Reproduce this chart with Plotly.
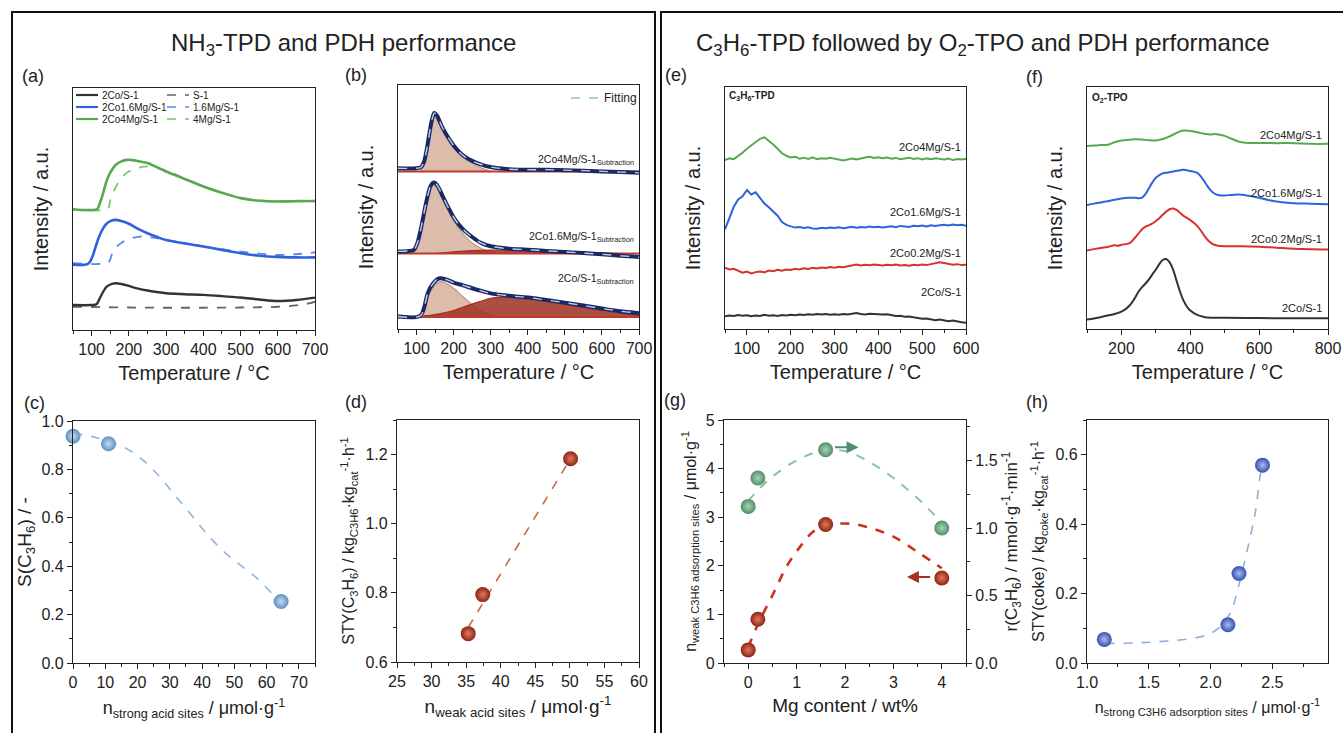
import plotly.graph_objects as go

W, H = 1343, 733
FONT = "Liberation Sans, Arial, sans-serif"
INK = "#222222"


def fx(px):
    return px / W


def fy(py):
    return 1 - py / H


# ---------------- (a) NH3-TPD profiles ----------------
a_T_co = [50, 100, 113, 120, 130, 140, 150, 165, 180, 200, 225, 250, 275, 300, 350, 400, 450, 500, 550, 600, 650, 700]
a_co = [10.3, 10.3, 10.6, 12.5, 15.5, 17.8, 18.8, 19.3, 19.0, 18.2, 17.1, 16.3, 15.7, 15.2, 14.8, 14.5, 14.0, 13.4, 12.6, 12.0, 12.4, 13.4]
a_T_s1 = [50, 100, 200, 300, 400, 500, 550, 600, 650, 680, 700]
a_s1 = [9.6, 9.5, 9.3, 9.2, 9.2, 9.3, 9.4, 9.6, 10.2, 10.9, 11.7]
a_T_co16 = [50, 90, 100, 110, 120, 130, 140, 150, 165, 180, 200, 225, 250, 275, 300, 350, 400, 450, 500, 550, 600, 650, 700]
a_co16 = [27.0, 27.3, 29.5, 34.0, 38.5, 41.8, 43.9, 45.0, 45.5, 45.0, 43.9, 41.8, 40.0, 38.5, 37.2, 35.8, 34.5, 33.1, 31.7, 30.7, 30.2, 30.0, 30.0]
a_T_mg16 = [50, 140, 148, 155, 165, 180, 200, 230, 260, 300, 350, 400, 450, 500, 550, 600, 650, 700]
a_mg16 = [27.6, 27.6, 28.5, 31.5, 34.0, 36.0, 37.6, 38.6, 38.3, 37.2, 35.8, 34.5, 33.4, 32.4, 31.6, 31.0, 31.3, 32.1]
a_T_co4 = [50, 115, 120, 130, 140, 150, 165, 180, 195, 210, 230, 250, 275, 300, 350, 400, 450, 500, 550, 600, 650, 700]
a_co4 = [49.9, 50.0, 51.5, 56.0, 61.5, 65.0, 68.3, 69.7, 70.3, 70.2, 69.6, 69.0, 67.3, 65.5, 62.4, 59.3, 56.7, 54.5, 53.4, 53.1, 53.2, 53.3]
a_T_mg4 = [50, 140, 145, 150, 160, 170, 180, 200, 225, 250, 275, 300, 350, 400, 450, 500, 550, 600, 650, 700]
a_mg4 = [49.6, 49.7, 50.3, 53.5, 57.5, 60.5, 62.8, 65.5, 67.0, 67.6, 67.0, 65.9, 62.6, 59.4, 56.8, 54.7, 53.6, 53.3, 53.4, 53.5]

# ---------------- (b) subtracted profiles and fitted peaks ----------------
b_base = [64.5, 30.9, 4.9]
b_labels = ["2Co4Mg/S-1", "2Co1.6Mg/S-1", "2Co/S-1"]

b_T_4 = [50, 100, 112, 120, 128, 135, 142, 148, 155, 162, 170, 180, 190, 200, 215, 230, 250, 275, 300, 350, 400, 450, 500, 550, 600, 650, 700]
b_4 = [65.9, 65.9, 66.3, 68.5, 74.0, 80.5, 86.0, 88.5, 87.5, 85.2, 82.5, 79.8, 77.4, 75.2, 72.6, 70.6, 68.9, 67.4, 66.4, 65.5, 65.3, 65.3, 65.1, 64.9, 64.6, 64.3, 64.0]
b_Tw_4 = [110, 120, 128, 135, 142, 148, 155, 162, 170, 180, 190, 200, 215, 230, 250, 275, 300]
b_w_4 = [64.5, 67.8, 73.5, 80.0, 85.5, 88.0, 87.0, 84.7, 82.0, 79.2, 76.8, 74.6, 72.0, 70.0, 68.0, 66.0, 64.5]

b_T_16 = [50, 80, 92, 100, 108, 115, 122, 130, 137, 145, 152, 160, 170, 180, 190, 200, 215, 230, 250, 275, 300, 350, 400, 450, 500, 550, 600, 650, 700]
b_16 = [31.8, 32.0, 32.3, 34.3, 38.5, 43.5, 49.0, 54.5, 58.3, 60.0, 59.6, 57.8, 54.6, 51.5, 48.5, 45.8, 42.6, 40.2, 37.7, 35.2, 33.9, 32.9, 32.5, 32.0, 31.6, 31.1, 30.6, 30.0, 29.5]
b_Tw_16 = [88, 100, 108, 115, 122, 130, 137, 145, 152, 160, 170, 180, 190, 200, 215, 230, 250, 275, 300, 320]
b_w_16 = [30.9, 33.3, 37.5, 42.5, 48.0, 53.5, 57.3, 59.0, 58.6, 56.8, 53.6, 50.4, 47.3, 44.5, 41.0, 38.2, 35.3, 33.0, 31.6, 30.9]
b_Ts_16 = [150, 200, 250, 300, 350, 400, 450, 500, 550, 600, 650]
b_s_16 = [30.9, 31.6, 32.1, 32.3, 32.3, 32.2, 32.0, 31.8, 31.5, 31.2, 30.9]

b_T_0 = [50, 110, 120, 130, 145, 160, 180, 200, 225, 250, 275, 300, 350, 400, 450, 500, 550, 600, 650, 700]
b_0 = [5.1, 5.4, 8.5, 14.6, 18.7, 20.7, 20.3, 19.0, 17.9, 16.7, 15.6, 14.6, 13.6, 12.9, 11.9, 10.8, 9.6, 8.4, 7.3, 6.5]
b_Tw_0 = [115, 125, 135, 150, 165, 180, 200, 225, 250, 275, 300, 325]
b_w_0 = [4.9, 9.2, 14.6, 18.0, 19.4, 18.7, 16.7, 13.3, 9.9, 7.2, 5.8, 4.9]
b_Ts_0 = [120, 150, 200, 250, 300, 330, 350, 400, 450, 500, 550, 600, 650, 700]
b_s_0 = [5.4, 5.9, 7.6, 10.2, 12.6, 13.1, 13.1, 12.7, 11.7, 10.2, 8.8, 7.6, 6.5, 5.7]

# ---------------- (e) C3H6-TPD ----------------
e_T = list(range(50, 601, 10))
e_co4 = [69.8, 70.5, 70.2, 71.5, 72.8, 74.5, 76.0, 77.5, 78.6, 79.2, 77.8, 76.2, 74.5, 72.6, 71.6, 70.9, 71.2, 70.4, 70.8, 70.3,
         70.9, 70.2, 70.6, 70.4, 70.8, 70.5, 70.1, 69.6, 70.0, 70.4, 70.1, 70.6, 70.9, 71.2, 70.7, 71.0, 70.6, 70.9, 70.4, 70.7,
         70.2, 70.5, 70.8, 70.3, 70.6, 70.1, 70.5, 70.2, 70.6, 70.3, 70.0, 70.4, 69.8, 70.2, 70.0, 70.4]
e_co16 = [41.2, 45.5, 50.5, 53.5, 54.8, 57.4, 55.6, 56.5, 54.0, 51.8, 50.3, 48.5, 46.8, 44.2, 43.0, 42.4, 41.9, 42.1, 41.7, 42.0,
          41.5, 41.4, 41.8, 41.6, 41.9, 41.7, 42.0, 41.6, 41.9, 42.2, 41.8, 42.1, 41.9, 42.3, 42.0, 42.2, 41.9, 42.3, 42.5, 42.1,
          42.6, 42.4, 42.2, 42.7, 42.5, 42.8, 42.4, 42.9, 42.6, 42.9, 43.1, 42.8, 43.2, 42.9, 43.1, 42.7]
e_co02 = [25.3, 24.6, 24.9, 24.0, 23.3, 23.7, 23.0, 23.5, 23.8, 23.4, 24.2, 23.9, 24.5, 24.1, 24.6, 24.4, 24.9, 24.6, 25.1, 24.8,
          25.3, 25.0, 25.4, 25.2, 25.6, 25.3, 25.7, 25.5, 25.9, 26.3, 26.6, 26.2, 26.5, 26.3, 26.6, 26.4, 26.2, 26.5, 26.3, 26.6,
          26.2, 26.4, 26.1, 26.5, 26.3, 26.6, 26.4, 26.8, 27.2, 27.6, 27.3, 27.0, 26.6, 26.8, 26.4, 26.6]
e_co = [5.3, 5.6, 5.4, 5.8, 5.5, 5.7, 5.3, 5.6, 5.4, 5.9, 5.5, 5.7, 5.4, 5.8, 5.6, 5.9, 5.7, 6.0, 5.8, 6.1,
        5.9, 6.2, 6.0, 6.2, 5.9, 6.1, 5.9, 6.2, 6.0, 6.3, 6.6, 6.2, 6.0, 6.3, 6.1, 6.2, 6.0, 6.1, 5.7, 5.4,
        5.5, 5.1, 5.2, 4.8, 4.5, 4.2, 4.3, 3.8, 3.6, 3.9, 3.4, 3.2, 3.5, 3.0, 2.8, 2.6]
e_labels = ["2Co4Mg/S-1", "2Co1.6Mg/S-1", "2Co0.2Mg/S-1", "2Co/S-1"]

# ---------------- (f) O2-TPO ----------------
f_T_co = [100, 120, 140, 160, 180, 200, 210, 220, 230, 240, 250, 260, 270, 280, 290, 300, 310, 320, 330, 340, 350, 360, 370, 380, 390, 400, 420, 440, 460, 500, 600, 700, 800]
f_co = [3.9, 4.3, 4.9, 5.6, 6.2, 7.2, 8.0, 9.2, 10.8, 13.0, 15.5, 17.3, 18.8, 20.5, 22.6, 24.6, 26.8, 28.5, 28.9, 27.5, 24.5, 20.0, 15.5, 11.8, 9.3, 7.6, 5.8, 5.0, 4.7, 4.6, 4.5, 4.4, 4.4]
f_T_co02 = [100, 120, 140, 160, 180, 190, 200, 220, 230, 240, 250, 260, 270, 280, 290, 300, 310, 320, 330, 340, 350, 360, 370, 380, 390, 400, 410, 420, 430, 440, 450, 460, 470, 480, 500, 550, 600, 650, 700, 750, 800]
f_co02 = [32.4, 33.0, 33.5, 33.9, 34.6, 34.4, 34.8, 35.3, 36.2, 37.8, 39.5, 41.2, 42.3, 42.9, 43.6, 44.6, 45.8, 47.2, 48.5, 49.5, 49.8, 49.2, 48.0, 46.8, 45.9, 45.0, 43.9, 42.6, 40.8, 38.7, 36.9, 35.6, 34.8, 34.4, 34.2, 34.2, 34.0, 33.6, 33.2, 33.0, 32.9]
f_T_co16 = [100, 120, 140, 160, 180, 200, 220, 240, 250, 260, 270, 280, 290, 300, 310, 320, 330, 340, 350, 360, 370, 380, 390, 400, 410, 420, 430, 440, 450, 460, 470, 480, 490, 500, 520, 540, 560, 580, 600, 620, 650, 700, 750, 800]
f_co16 = [51.2, 51.8, 52.3, 52.8, 53.4, 53.9, 54.2, 54.2, 54.0, 54.3, 55.8, 58.2, 60.6, 62.5, 63.6, 64.3, 64.6, 64.8, 65.1, 65.4, 65.6, 65.8, 65.6, 65.3, 65.0, 64.5, 63.2, 61.2, 59.0, 57.2, 56.0, 55.4, 55.2, 55.2, 55.4, 55.6, 55.3, 54.8, 54.2, 53.5, 52.7, 52.0, 51.8, 51.6]
f_T_co4 = [100, 120, 140, 160, 170, 180, 200, 220, 240, 260, 280, 300, 320, 340, 360, 380, 400, 420, 440, 460, 470, 480, 500, 520, 540, 560, 600, 650, 700, 750, 800]
f_co4 = [75.6, 75.8, 76.0, 76.1, 76.6, 77.2, 77.9, 78.2, 78.4, 78.3, 78.0, 77.9, 78.5, 79.6, 81.0, 82.0, 81.8, 81.3, 80.7, 80.4, 80.6, 80.4, 79.8, 78.6, 77.5, 77.0, 76.9, 76.8, 76.8, 76.5, 76.5]
f_labels = ["2Co4Mg/S-1", "2Co1.6Mg/S-1", "2Co0.2Mg/S-1", "2Co/S-1"]

# ---------------- (c) selectivity vs strong acid sites ----------------
c_n_strong = [0.0, 11.0, 64.5]
c_sel = [0.937, 0.906, 0.254]
c_fit_x = [0.0, 6.4, 11.5, 16.6, 21.8, 26.9, 32.0, 37.2, 42.3, 47.4, 52.6, 57.7, 62.8, 64.4]
c_fit_y = [0.950, 0.934, 0.913, 0.886, 0.837, 0.769, 0.686, 0.603, 0.521, 0.452, 0.397, 0.342, 0.273, 0.259]

# ---------------- (d) STY(C3H6) vs weak acid sites ----------------
d_n_weak = [35.3, 37.4, 50.1]
d_sty = [0.682, 0.795, 1.188]
d_fit_x = [35.3, 50.0]
d_fit_y = [0.700, 1.185]

# ---------------- (g) Mg content ----------------
g_mg = [0.0, 0.2, 1.6, 4.0]
g_n_weak = [0.27, 0.90, 2.85, 1.75]
g_rate = [1.16, 1.37, 1.58, 1.00]
g_fit_x_n = [0.0, 0.24, 0.52, 0.79, 1.07, 1.34, 1.62, 1.90, 2.17, 2.45, 3.0, 3.55, 4.0]
g_fit_n = [0.33, 0.88, 1.43, 1.98, 2.39, 2.70, 2.84, 2.87, 2.86, 2.80, 2.60, 2.25, 1.95]
g_fit_x_r = [0.0, 0.2, 0.5, 1.0, 1.5, 2.0, 2.5, 3.0, 3.5, 4.0]
g_fit_r = [1.20, 1.28, 1.38, 1.50, 1.57, 1.57, 1.49, 1.37, 1.22, 1.04]

# ---------------- (h) STY(coke) vs strong C3H6 sites ----------------
h_n_strong = [1.14, 2.14, 2.23, 2.42]
h_sty_coke = [0.068, 0.110, 0.258, 0.570]
h_fit_x = [1.15, 1.40, 1.565, 1.835, 2.0, 2.10, 2.17, 2.225, 2.29, 2.36, 2.40, 2.43]
h_fit_y = [0.056, 0.058, 0.061, 0.070, 0.085, 0.113, 0.152, 0.219, 0.315, 0.430, 0.537, 0.590]

BLACK = "#333333"
BLUE = "#2f63dc"
GREEN = "#58a852"
RED = "#d8322e"

fig = go.Figure()


def add_line(x, y, ax, color, width=2.2, dash=None, shape="linear", ay=None):
    fig.add_trace(go.Scatter(
        x=x, y=y, xaxis="x" + ax, yaxis="y" + (ax if ay is None else ay), mode="lines",
        line=dict(color=color, width=width, dash=dash, shape=shape),
        showlegend=False, hoverinfo="skip"))


# (a)
add_line(a_T_s1, a_s1, "", "#666666", 1.8, "dash", "spline")
add_line(a_T_co, a_co, "", BLACK, 2.4, None, "spline")
add_line(a_T_mg16, a_mg16, "", "#5b87ea", 1.8, "dash", "spline")
add_line(a_T_co16, a_co16, "", BLUE, 2.6, None, "spline")
add_line(a_T_mg4, a_mg4, "", "#7cc46e", 1.8, "dash", "spline")
add_line(a_T_co4, a_co4, "", GREEN, 2.6, None, "spline")

# (b) fitted peak areas above each baseline
TAN_FILL = "rgba(214,178,158,0.85)"
TAN_EDGE = "#c89478"
BROWN_FILL = "rgba(158,48,34,0.85)"


def add_area(Tc, vals, base, fill, edge):
    fig.add_trace(go.Scatter(x=Tc, y=[base] * len(Tc), xaxis="x2", yaxis="y2", mode="lines",
                             line=dict(width=0), showlegend=False, hoverinfo="skip"))
    fig.add_trace(go.Scatter(x=Tc, y=vals, xaxis="x2", yaxis="y2", mode="lines", fill="tonexty",
                             fillcolor=fill, line=dict(color=edge, width=1.2, shape="spline"),
                             showlegend=False, hoverinfo="skip"))


add_area(b_Tw_4, b_w_4, b_base[0], TAN_FILL, TAN_EDGE)
add_area(b_Tw_16, b_w_16, b_base[1], TAN_FILL, TAN_EDGE)
add_area(b_Ts_16, b_s_16, b_base[1], BROWN_FILL, "#9e3022")
add_area(b_Tw_0, b_w_0, b_base[2], TAN_FILL, TAN_EDGE)
add_area(b_Ts_0, b_s_0, b_base[2], BROWN_FILL, "#9e3022")
for base in b_base:
    add_line([50, 700], [base, base], "2", "#c0392b", 2.0)
for Tb, yb in [(b_T_4, b_4), (b_T_16, b_16), (b_T_0, b_0)]:
    add_line(Tb, yb, "2", "#1c2766", 4.0, None, "spline")
    add_line(Tb, yb, "2", "#b9d2e4", 1.4, "dash", "spline")

# (e)
add_line(e_T, e_co4, "3", GREEN, 2.0)
add_line(e_T, e_co16, "3", BLUE, 2.0)
add_line(e_T, e_co02, "3", RED, 2.0)
add_line(e_T, e_co, "3", BLACK, 2.0)

# (f)
add_line(f_T_co4, f_co4, "4", GREEN, 2.0, None, "spline")
add_line(f_T_co16, f_co16, "4", BLUE, 2.0, None, "spline")
add_line(f_T_co02, f_co02, "4", RED, 2.0, None, "spline")
add_line(f_T_co, f_co, "4", BLACK, 2.0, None, "spline")


def add_balls(x, y, ax, ay, color, light):
    fig.add_trace(go.Scatter(
        x=x, y=y, xaxis="x" + ax, yaxis="y" + ay, mode="markers",
        marker=dict(size=15, color=color, line=dict(width=0),
                    gradient=dict(type="radial", color=light)),
        showlegend=False, hoverinfo="skip", cliponaxis=False))


# (c)
add_line(c_fit_x, c_fit_y, "5", "#8db5dc", 1.6, "dash", "spline")
add_balls(c_n_strong, c_sel, "5", "5", "#5f8fc0", "#c8dcef")
# (d)
add_line(d_fit_x, d_fit_y, "6", "#c8684c", 1.6, "dash")
add_balls(d_n_weak, d_sty, "6", "6", "#8e2414", "#e07a5f")
# (g)
add_line(g_fit_x_r, g_fit_r, "7", "#8cc0a4", 2.0, "dash", "spline", ay="9")
add_line(g_fit_x_n, g_fit_n, "7", "#c8331f", 2.6, "dash", "spline")
add_balls(g_mg, g_rate, "7", "9", "#4f8f69", "#a9d4b8")
add_balls(g_mg, g_n_weak, "7", "7", "#8e2414", "#e07a5f")
# (h)
add_line(h_fit_x, h_fit_y, "8", "#8db0d8", 1.6, "dash", "spline")
add_balls(h_n_strong, h_sty_coke, "8", "8", "#3552b0", "#a9bcec")

# ---------------- axes ----------------
TF = dict(size=16, color=INK, family=FONT)


def base_axis(**kw):
    d = dict(showline=True, linecolor=INK, linewidth=1.3, mirror=True, ticks="outside",
             ticklen=5, tickwidth=1.2, tickcolor=INK, tickfont=TF, showgrid=False,
             zeroline=False, automargin=False, fixedrange=True)
    d.update(kw)
    return d


def minor(dt):
    return dict(ticks="outside", ticklen=3, tickwidth=1, tickcolor=INK, dtick=dt, showgrid=False)


def dom(p0, p1):
    return [fx(p0), fx(p1)]


def vdom(top, bottom):
    return [fy(bottom), fy(top)]


def ttl(text, size, standoff):
    return dict(text=text, font=dict(size=size, color=INK, family=FONT), standoff=standoff)


temp_title = ttl("Temperature / °C", 20, 8)
int_title = ttl("Intensity / a.u.", 20, 17)
no_y = dict(showticklabels=False, ticks="", range=[0, 100])

lay = {}
# top row
lay["xaxis"] = base_axis(domain=dom(73, 315), anchor="y", range=[50, 700], dtick=100, tick0=0, minor=minor(50), title=temp_title)
lay["yaxis"] = base_axis(domain=vdom(88, 330), anchor="x", title=int_title, **no_y)
lay["xaxis2"] = base_axis(domain=dom(398, 639), anchor="y2", range=[50, 700], dtick=100, tick0=0, minor=minor(50), title=temp_title)
lay["yaxis2"] = base_axis(domain=vdom(85, 329), anchor="x2", title=int_title, **no_y)
lay["xaxis3"] = base_axis(domain=dom(725, 966), anchor="y3", range=[50, 600], dtick=100, tick0=0, minor=minor(50), title=temp_title)
lay["yaxis3"] = base_axis(domain=vdom(87, 329), anchor="x3", title=int_title, **no_y)
lay["xaxis4"] = base_axis(domain=dom(1087, 1328), anchor="y4", range=[100, 800], dtick=200, tick0=0, minor=minor(100), title=temp_title)
lay["yaxis4"] = base_axis(domain=vdom(87, 329), anchor="x4", title=int_title, **no_y)

# bottom row
lay["xaxis5"] = base_axis(domain=dom(73, 315), anchor="y5", range=[0, 75], dtick=10, minor=minor(5),
                          title=ttl("n<sub>strong acid sites</sub> / μmol·g<sup>-1</sup>", 18, 11))
lay["yaxis5"] = base_axis(domain=vdom(421, 663), anchor="x5", range=[0, 1.0], dtick=0.2, tickformat=".1f", minor=minor(0.1),
                          title=ttl("S(C<sub>3</sub>H<sub>6</sub>) / -", 19, 4))
lay["xaxis6"] = base_axis(domain=dom(397, 639), anchor="y6", range=[25, 60], dtick=5, minor=minor(2.5),
                          title=ttl("n<sub>weak acid sites</sub> / μmol·g<sup>-1</sup>", 19, 10))
lay["yaxis6"] = base_axis(domain=vdom(420, 662), anchor="x6", range=[0.6, 1.3], dtick=0.2, tick0=0.6, tickformat=".1f", minor=minor(0.1),
                          title=ttl("STY(C<sub>3</sub>H<sub>6</sub>) / kg<sub>C3H6</sub>·kg<sub>cat</sub><sup>-1</sup>·h<sup>-1</sup>", 16, 6))
lay["xaxis7"] = base_axis(domain=dom(724, 966), anchor="y7", range=[-0.5, 4.5], dtick=1, minor=minor(0.5),
                          title=ttl("Mg content / wt%", 19, 8))
lay["yaxis7"] = base_axis(domain=vdom(420, 663), anchor="x7", range=[0, 5], dtick=1, minor=minor(0.5), mirror=False,
                          title=ttl("n<sub>weak C3H6 adsorption sites</sub> / μmol·g<sup>-1</sup>", 16, 5))
lay["yaxis9"] = base_axis(overlaying="y7", side="right", anchor="x7", range=[0, 1.8], dtick=0.5, tickformat=".1f", minor=minor(0.25), mirror=False,
                          title=ttl("r(C<sub>3</sub>H<sub>6</sub>) / mmol·g<sup>-1</sup>·min<sup>-1</sup>", 17, 8))
lay["xaxis8"] = base_axis(domain=dom(1087, 1328), anchor="y8", range=[1.0, 2.95], dtick=0.5, tick0=1.0, tickformat=".1f", minor=minor(0.25),
                          title=ttl("n<sub>strong C3H6 adsorption sites</sub> / μmol·g<sup>-1</sup>", 16, 11))
lay["yaxis8"] = base_axis(domain=vdom(420, 663), anchor="x8", range=[0, 0.7], dtick=0.2, tickformat=".1f", minor=minor(0.1),
                          title=ttl("STY(coke) / kg<sub>coke</sub>·kg<sub>cat</sub><sup>-1</sup>·h<sup>-1</sup>", 16, 6))

fig.update_layout(**lay)

# ---------------- frames, headings, labels ----------------
shapes = [
    dict(type="rect", xref="paper", yref="paper", x0=fx(12), x1=fx(655), y0=fy(745), y1=fy(12),
         line=dict(color="#111111", width=2)),
    dict(type="rect", xref="paper", yref="paper", x0=fx(661), x1=fx(1350), y0=fy(745), y1=fy(12),
         line=dict(color="#111111", width=2)),
]

ann = []


def text(x, y, s, size, anchor="left", bold=False, color=INK, yanchor="middle"):
    if bold:
        s = "<b>" + s + "</b>"
    ann.append(dict(x=fx(x), y=fy(y), xref="paper", yref="paper", text=s, showarrow=False,
                    xanchor=anchor, yanchor=yanchor, font=dict(size=size, color=color, family=FONT)))


text(343, 44, "NH<sub>3</sub>-TPD and PDH performance", 24, "center")
text(983, 44, "C<sub>3</sub>H<sub>6</sub>-TPD followed by O<sub>2</sub>-TPO and PDH performance", 24, "center")

for lab, x, y in [("(a)", 20, 76), ("(b)", 343, 75), ("(e)", 663, 75), ("(f)", 1024, 77),
                  ("(c)", 22, 403), ("(d)", 343, 402), ("(g)", 662, 400), ("(h)", 1024, 402)]:
    text(x, y, lab, 18)

# (a) legend drawn as line samples plus labels
leg_rows = [95, 107, 119]
leg_solid = [(BLACK, "2Co/S-1"), (BLUE, "2Co1.6Mg/S-1"), (GREEN, "2Co4Mg/S-1")]
leg_dash = [("#666666", "S-1"), ("#5b87ea", "1.6Mg/S-1"), ("#7cc46e", "4Mg/S-1")]
for yrow, (col, lab) in zip(leg_rows, leg_solid):
    shapes.append(dict(type="line", xref="paper", yref="paper", x0=fx(76), x1=fx(98), y0=fy(yrow), y1=fy(yrow),
                       line=dict(color=col, width=2.2)))
    text(100, yrow, lab, 10)
for yrow, (col, lab) in zip(leg_rows, leg_dash):
    shapes.append(dict(type="line", xref="paper", yref="paper", x0=fx(167), x1=fx(189), y0=fy(yrow), y1=fy(yrow),
                       line=dict(color=col, width=1.6, dash="dash")))
    text(191, yrow, lab, 10)

# (b) legend and labels
shapes.append(dict(type="line", xref="paper", yref="paper", x0=fx(571), x1=fx(598), y0=fy(98), y1=fy(98),
                   line=dict(color="#8fc3c9", width=1.6, dash="dash")))
text(602, 98, "Fitting", 12)
for lab, y in zip(b_labels, [160, 237, 279]):
    text(636, y, lab + "<sub>Subtraction</sub>", 10.5, "right")

# (e) and (f) labels
text(727, 96, "C<sub>3</sub>H<sub>6</sub>-TPD", 10, bold=True)
for lab, y in zip(e_labels, [147, 212, 253, 292]):
    text(963, y, lab, 11, "right")
text(1090, 98, "O<sub>2</sub>-TPO", 10, bold=True)
for lab, y in zip(f_labels, [135, 193, 239, 308]):
    text(1324, y, lab, 11, "right")

# (g) arrows pointing to the relevant axis
ann.append(dict(x=2.28, y=4.44, ax=1.76, ay=4.44, xref="x7", yref="y7", axref="x7", ayref="y7",
                showarrow=True, arrowhead=2, arrowsize=1.2, arrowwidth=2, arrowcolor="#4f8f69", text=""))
ann.append(dict(x=3.28, y=1.77, ax=3.79, ay=1.77, xref="x7", yref="y7", axref="x7", ayref="y7",
                showarrow=True, arrowhead=2, arrowsize=1.2, arrowwidth=2, arrowcolor="#a8301f", text=""))

fig.update_layout(
    width=W, height=H, margin=dict(l=0, r=0, t=0, b=0),
    paper_bgcolor="white", plot_bgcolor="white",
    font=dict(family=FONT, color=INK), showlegend=False,
    shapes=shapes, annotations=ann,
)

fig.write_html("out.html", config={"displayModeBar": False})
